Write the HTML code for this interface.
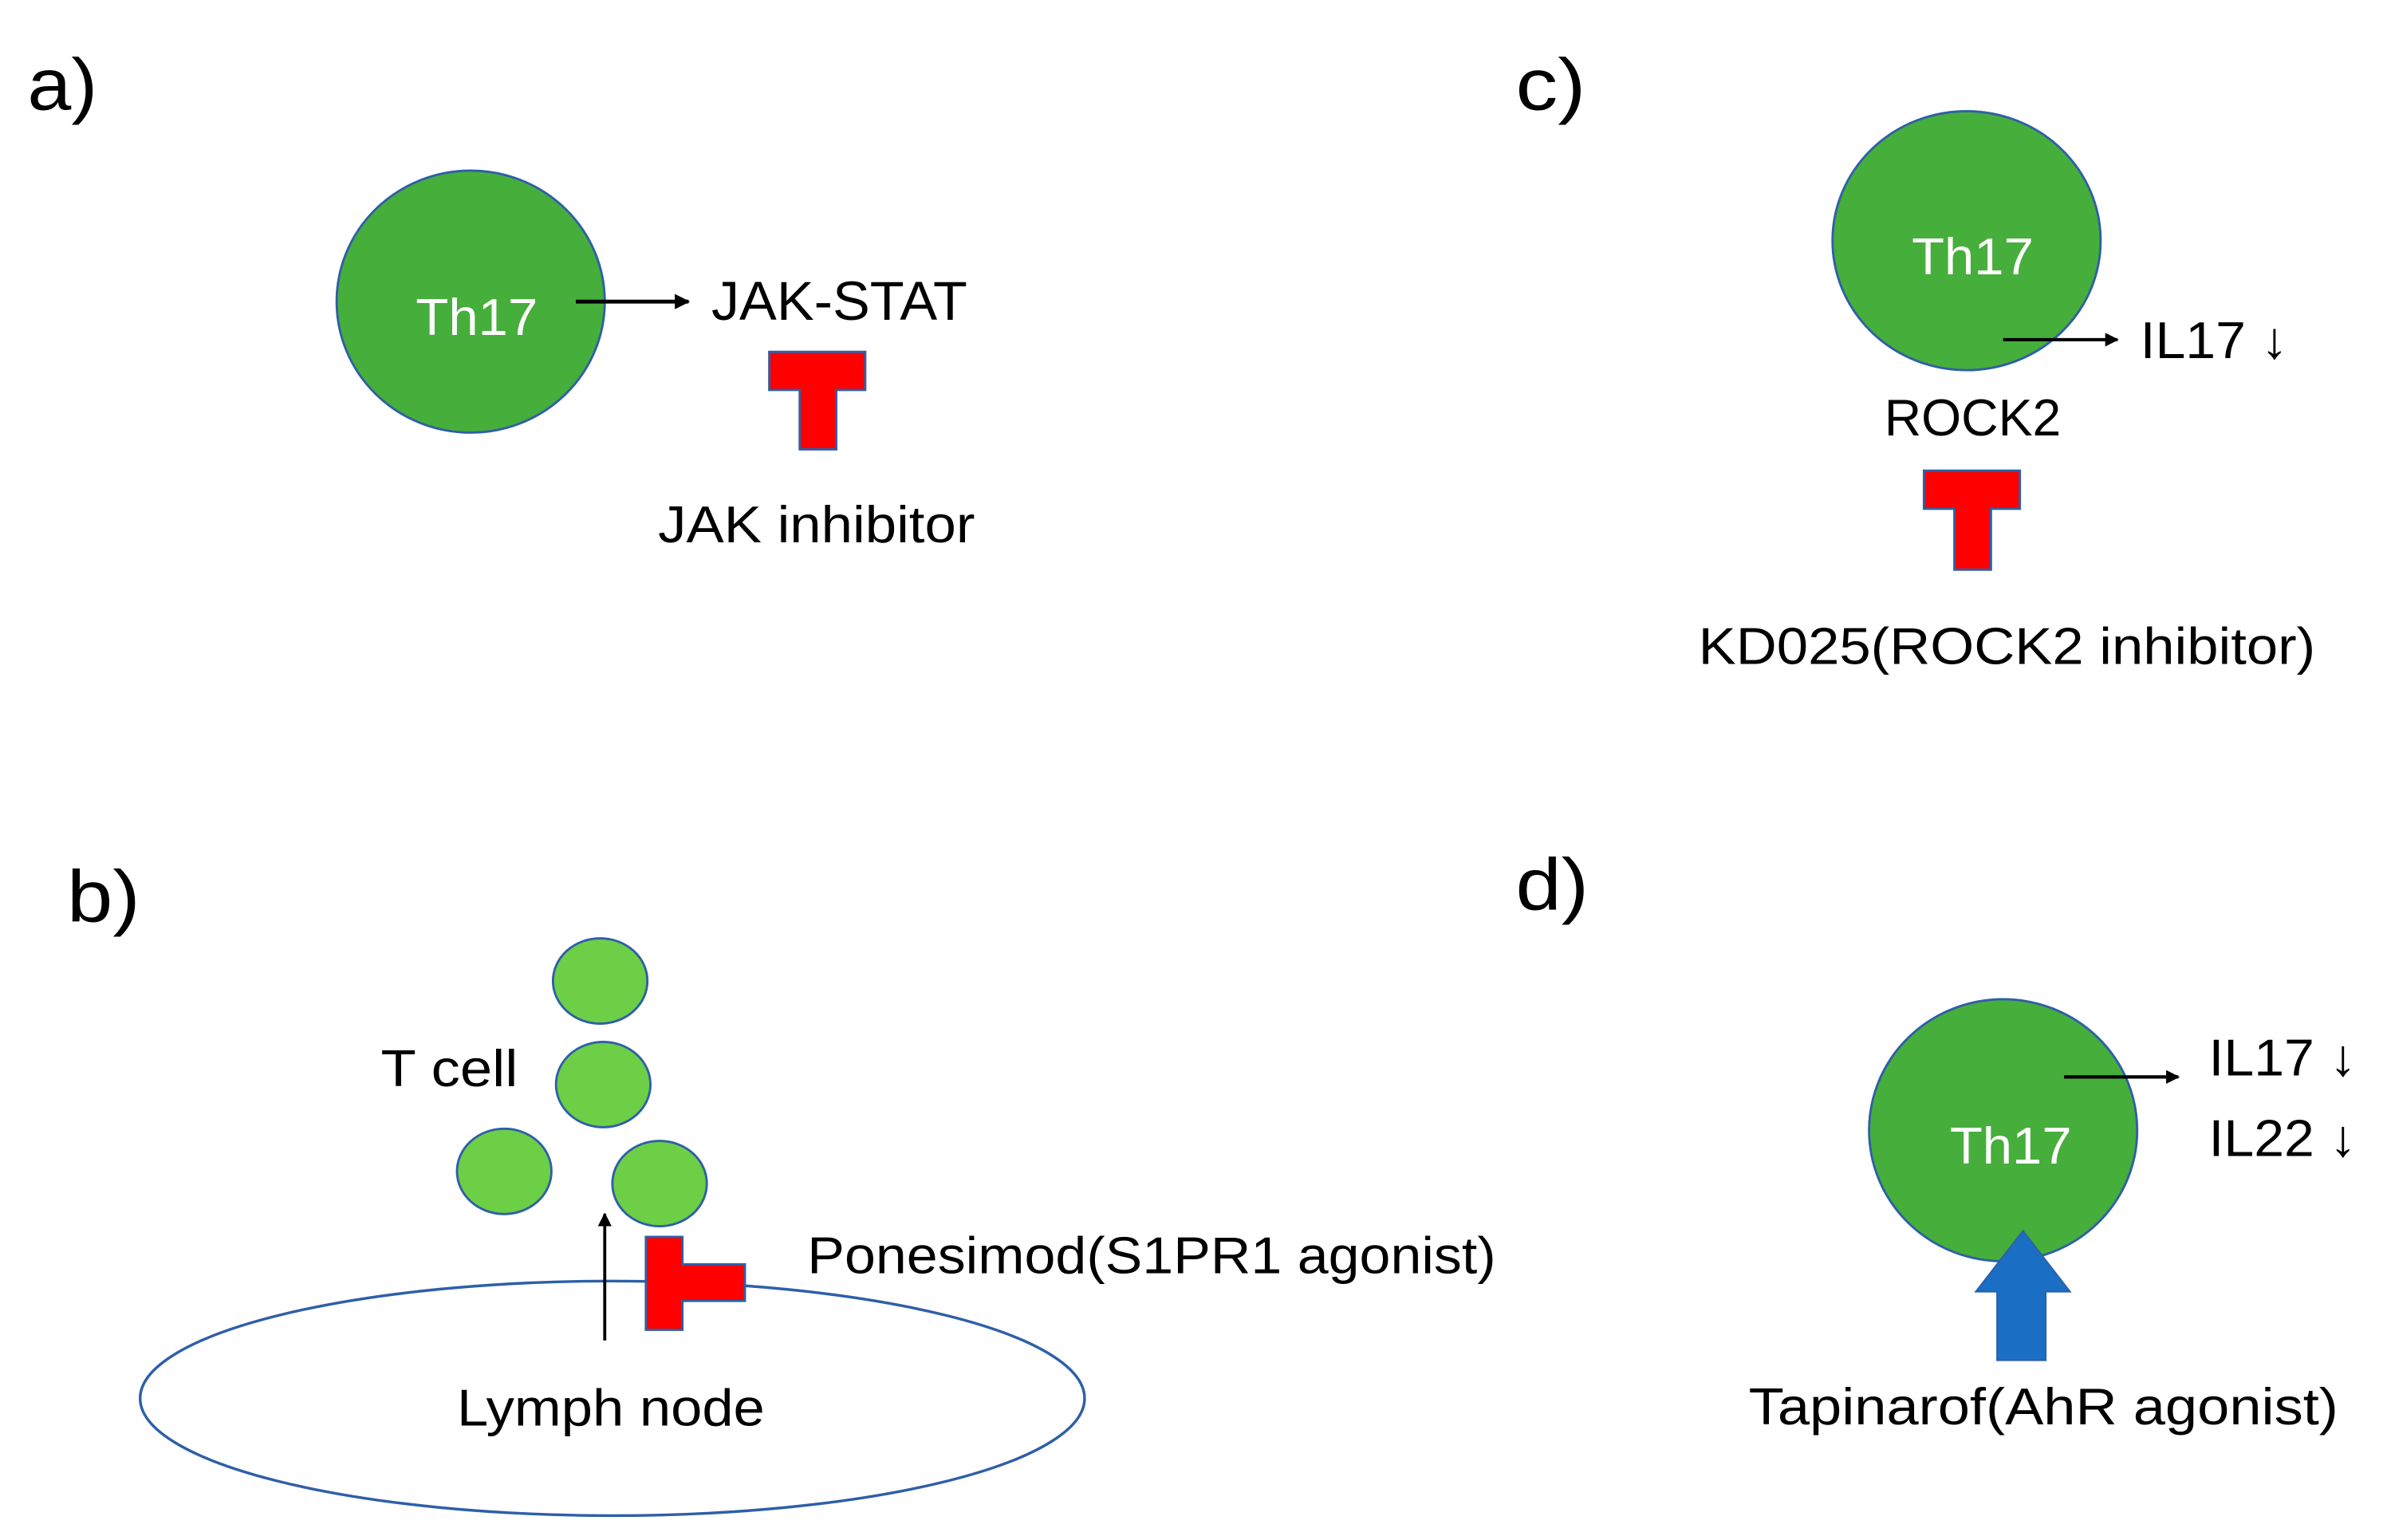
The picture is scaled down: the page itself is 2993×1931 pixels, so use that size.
<!DOCTYPE html>
<html><head><style>html,body{margin:0;padding:0;background:#fff}svg{display:block}</style></head>
<body>
<svg width="2993" height="1931" viewBox="0 0 1567 1011" preserveAspectRatio="none" xmlns="http://www.w3.org/2000/svg" font-family="Liberation Sans, sans-serif">
<defs><marker id="ah" markerWidth="9" markerHeight="9" refX="8" refY="4.5" orient="auto" markerUnits="userSpaceOnUse"><path d="M0,0 L9,4.5 L0,9 z" fill="#000"/></marker>
<marker id="ah2" markerWidth="10" markerHeight="10" refX="9" refY="5" orient="auto" markerUnits="userSpaceOnUse"><path d="M0,0 L10,5 L0,10 z" fill="#000"/></marker></defs>
<g fill="#000" font-size="48">
<text x="18" y="72" textLength="46" lengthAdjust="spacingAndGlyphs">a)</text>
<text x="995" y="72" textLength="46" lengthAdjust="spacingAndGlyphs">c)</text>
<text x="44" y="605" textLength="48" lengthAdjust="spacingAndGlyphs">b)</text>
<text x="995" y="597" textLength="48" lengthAdjust="spacingAndGlyphs">d)</text>
</g>
<!-- a -->
<ellipse cx="309" cy="198" rx="88" ry="86" fill="#46ae3b" stroke="#2e5fa8" stroke-width="1.5"/>
<text x="273" y="220" font-size="34" fill="#fff" textLength="80" lengthAdjust="spacingAndGlyphs">Th17</text>
<line x1="378" y1="198" x2="452" y2="198" stroke="#000" stroke-width="2.5" marker-end="url(#ah2)"/>
<text x="467" y="210" font-size="36" textLength="168" lengthAdjust="spacingAndGlyphs">JAK-STAT</text>
<path d="M505,231 H568 V256 H549 V295 H525 V256 H505 Z" fill="#f00" stroke="#2e5fa8" stroke-width="1.5"/>
<text x="432" y="356" font-size="34" textLength="208" lengthAdjust="spacingAndGlyphs">JAK inhibitor</text>
<!-- c -->
<ellipse cx="1291" cy="158" rx="88" ry="85" fill="#46ae3b" stroke="#2e5fa8" stroke-width="1.5"/>
<text x="1255" y="180" font-size="34" fill="#fff" textLength="80" lengthAdjust="spacingAndGlyphs">Th17</text>
<line x1="1315" y1="223" x2="1390" y2="223" stroke="#000" stroke-width="2.2" marker-end="url(#ah)"/>
<text x="1405" y="235" font-size="34" textLength="97" lengthAdjust="spacingAndGlyphs">IL17 ↓</text>
<text x="1237" y="286" font-size="34" textLength="116" lengthAdjust="spacingAndGlyphs">ROCK2</text>
<path d="M1263,309 H1326 V334 H1307 V374 H1283 V334 H1263 Z" fill="#f00" stroke="#2e5fa8" stroke-width="1.5"/>
<text x="1115" y="436" font-size="34" textLength="405" lengthAdjust="spacingAndGlyphs">KD025(ROCK2 inhibitor)</text>
<!-- b -->
<g fill="#6ccf45" stroke="#2e5fa8" stroke-width="1.5">
<ellipse cx="394" cy="644" rx="31" ry="28"/>
<ellipse cx="396" cy="712" rx="31" ry="28"/>
<ellipse cx="331" cy="769" rx="31" ry="28"/>
<ellipse cx="433" cy="777" rx="31" ry="28"/>
</g>
<text x="250" y="713" font-size="34" textLength="90" lengthAdjust="spacingAndGlyphs">T cell</text>
<ellipse cx="402" cy="918" rx="310" ry="77" fill="none" stroke="#2e5fa8" stroke-width="1.8"/>
<line x1="397" y1="880" x2="397" y2="797" stroke="#000" stroke-width="2" marker-end="url(#ah)"/>
<path d="M424,812 H448 V830 H489 V854 H448 V873 H424 Z" fill="#f00" stroke="#2e5fa8" stroke-width="1.5"/>
<text x="530" y="836" font-size="34" textLength="452" lengthAdjust="spacingAndGlyphs">Ponesimod(S1PR1 agonist)</text>
<text x="300" y="936" font-size="34" textLength="202" lengthAdjust="spacingAndGlyphs">Lymph node</text>
<!-- d -->
<ellipse cx="1315" cy="742" rx="88" ry="86" fill="#46ae3b" stroke="#2e5fa8" stroke-width="1.5"/>
<text x="1280" y="764" font-size="34" fill="#fff" textLength="80" lengthAdjust="spacingAndGlyphs">Th17</text>
<line x1="1355" y1="707" x2="1430" y2="707" stroke="#000" stroke-width="2.2" marker-end="url(#ah)"/>
<text x="1450" y="706" font-size="34" textLength="97" lengthAdjust="spacingAndGlyphs">IL17 ↓</text>
<text x="1450" y="759" font-size="34" textLength="97" lengthAdjust="spacingAndGlyphs">IL22 ↓</text>
<path d="M1328,808 L1359,848 H1343 V893 H1311 V848 H1297 Z" fill="#1a6fc4" stroke="#2e5fa8" stroke-width="1"/>
<text x="1148" y="935" font-size="34" textLength="387" lengthAdjust="spacingAndGlyphs">Tapinarof(AhR agonist)</text>
</svg>
</body></html>
